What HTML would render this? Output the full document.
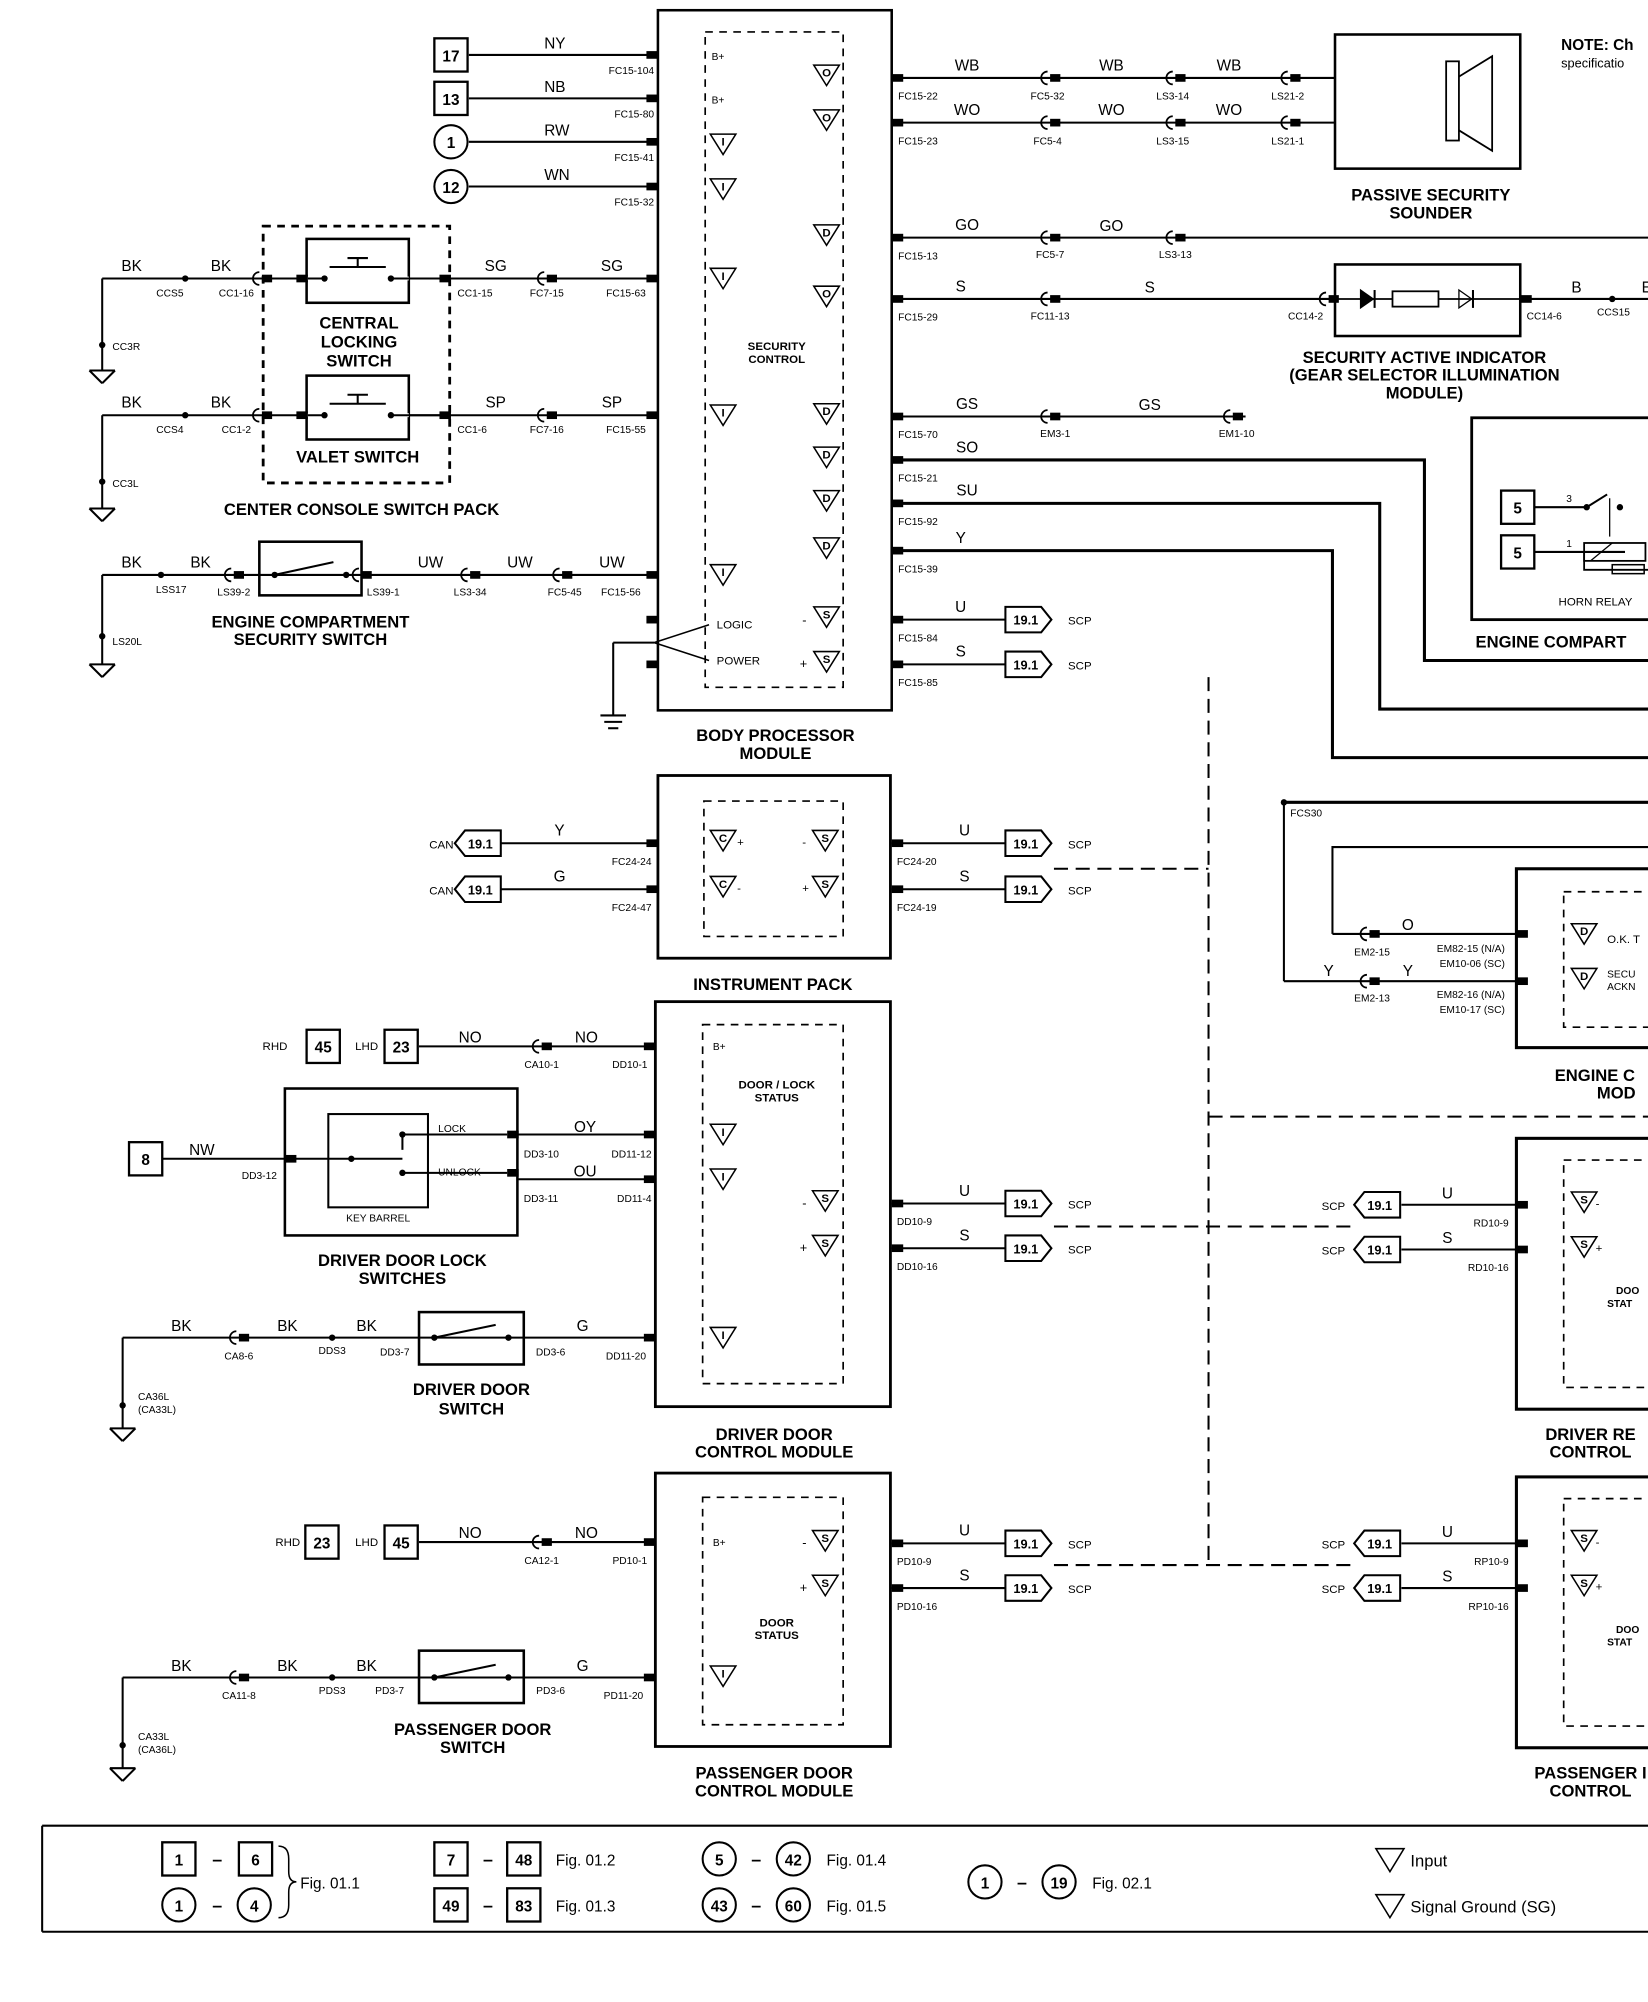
<!DOCTYPE html>
<html><head><meta charset="utf-8"><style>html,body{margin:0;padding:0;background:#fff}svg{display:block}text{font-family:"Liberation Sans",sans-serif;fill:#000}</style></head>
<body>
<svg id="s" width="1648" height="2002" viewBox="0 0 1290 1567" preserveAspectRatio="none" xmlns="http://www.w3.org/2000/svg">
<g id="g" stroke="#000" fill="none" stroke-width="1.6"></g>
</svg>
<script>
const G=document.getElementById('g');let h='';
const L=(x1,y1,x2,y2,w)=>h+=`<line x1="${x1}" y1="${y1}" x2="${x2}" y2="${y2}" stroke-width="${w||1.6}"/>`;
const P=(d,w,f)=>h+=`<path d="${d}" stroke-width="${w||1.6}" fill="${f||'none'}"/>`;
const R=(x,y,w,hh,sw,dash)=>h+=`<rect x="${x}" y="${y}" width="${w}" height="${hh}" stroke-width="${sw||2}" ${dash?'stroke-dasharray="6,5"':''}/>`;
const T=(x,y,t,s,b,a)=>h+=`<text x="${x}" y="${y}" font-size="${s||9}" ${b?'font-weight="bold"':''} text-anchor="${a||'start'}" stroke="none">${t}</text>`;
const pin=(x,y,dir)=>{h+=`<rect x="${dir>0?x:x-9}" y="${y-3}" width="9" height="6" fill="#000" stroke="none"/>`;};
const conn=(x,y)=>{P(`M${x-2},${y-5} a5,5 0 0 0 0,10`,1.4);h+=`<rect x="${x}" y="${y-3}" width="8" height="6" fill="#000" stroke="none"/>`;};
const dot=(x,y)=>h+=`<circle cx="${x}" cy="${y}" r="2.5" fill="#000" stroke="none"/>`;
const nbox=(x,y,t)=>{R(x,y-13,26,26,1.8);T(x+13,y+5,t,12,1,'middle');};
const ncirc=(x,y,t)=>{h+=`<circle cx="${x}" cy="${y}" r="13" stroke-width="1.6"/>`;T(x,y+5,t,12,1,'middle');};
const tagR=(x,y)=>{P(`M${x},${y-10}h28l8,10l-8,10h-28z`,1.6);T(x+16,y+4,'19.1',10,1,'middle');};
const tagL=(x,y)=>{P(`M${x+36},${y-10}h-28l-8,10l8,10h28z`,1.6);T(x+20,y+4,'19.1',10,1,'middle');};
const tri=(x,y,t)=>{P(`M${x-10},${y-8}h20l-10,16z`,1.2);if(t)T(x,y+1,t,9,1,'middle');};
const gnd=(x,y)=>{L(x-10,y,x+10,y);L(x-10,y,x,y+10);L(x+10,y,x,y+10);};
const sw=(x,y,w)=>{dot(x+12,y);dot(x+w-12,y);L(x+12,y,x+w-22,y-10);};
// ===== Body processor module
R(515,8,183,548,2);R(552,25,108,513,1.3,1);
T(607,580,'BODY PROCESSOR',13,1,'middle');T(607,594,'MODULE',13,1,'middle');
T(608,274,'SECURITY',9,1,'middle');T(608,284,'CONTROL',9,1,'middle');
[[43,'NY','FC15-104',()=>nbox(340,43,'17'),'B+'],[77,'NB','FC15-80',()=>nbox(340,77,'13'),'B+'],[111,'RW','FC15-41',()=>ncirc(353,111,'1'),'I'],[146,'WN','FC15-32',()=>ncirc(353,146,'12'),'I']].forEach(a=>{a[3]();L(367,a[0],515,a[0]);pin(515,a[0],-1);T(426,a[0]-5,a[1],12);T(512,a[0]+15,a[2],8,0,'end');if(a[4]=='B+')T(557,a[0]+4,'B+',8);else tri(566,a[0]+2,'I');});
tri(566,218,'I');tri(566,325,'I');tri(566,450,'I');
const rp=[[61,'O','WB','FC15-22'],[96,'O','WO','FC15-23'],[186,'D','GO','FC15-13'],[234,'O','S','FC15-29'],[326,'D','GS','FC15-70'],[360,'D','SO','FC15-21'],[394,'D','SU','FC15-92'],[431,'D','Y','FC15-39'],[485,'S','U','FC15-84'],[520,'S','S','FC15-85']];
rp.forEach(r=>{pin(698,r[0],1);tri(647,r[0]-2,r[1]);T(703,r[0]+17,r[3],8);T(r[2].length>1?757:752,r[0]-6,r[2],12,0,'middle');});
T(628,489,'-',10);T(626,523,'+',10);
[[61,'WB',['FC5-32','LS3-14','LS21-2']],[96,'WO',['FC5-4','LS3-15','LS21-1']]].forEach(r=>{L(698,r[0],1045,r[0]);[822,920,1010].forEach((x,i)=>{conn(x,r[0]);T(x-2,r[0]+17,r[2][i],8,0,'middle');});T(870,r[0]-6,r[1],12,0,'middle');T(962,r[0]-6,r[1],12,0,'middle');});
R(1045,27,145,105,2);h+=`<rect x="1132" y="48" width="10" height="62" stroke-width="1.4"/>`;P('M1142,60 L1168,44 V118 L1142,102',1.4);
T(1120,157,'PASSIVE SECURITY',13,1,'middle');T(1120,171,'SOUNDER',13,1,'middle');
T(1222,39,'NOTE: Ch',12,1);T(1222,53,'specificatio',10);
L(698,186,1290,186);conn(822,186);conn(920,186);T(870,181,'GO',12,0,'middle');T(822,202,'FC5-7',8,0,'middle');T(920,202,'LS3-13',8,0,'middle');
L(698,234,1045,234);conn(822,234);conn(1040,234);T(900,229,'S',12,0,'middle');T(822,250,'FC11-13',8,0,'middle');T(1022,250,'CC14-2',8,0,'middle');
R(1045,207,145,56,2);L(1045,234,1190,234,1.4);P('M1065,227 l10,7 l-10,7z',1,'#000');L(1076,227,1076,241);h+=`<rect x="1090" y="228" width="36" height="12" fill="#fff" stroke-width="1.4"/>`;P('M1142,227 l10,7 l-10,7z',1);L(1153,227,1153,241);
L(1190,234,1290,234);pin(1190,234,1);T(1195,250,'CC14-6',8);T(1230,229,'B',12);T(1263,247,'CCS15',8,0,'middle');dot(1262,234);T(1285,229,'E',12);
T(1115,284,'SECURITY ACTIVE INDICATOR',13,1,'middle');T(1115,298,'(GEAR SELECTOR ILLUMINATION',13,1,'middle');T(1115,312,'MODULE)',13,1,'middle');
L(698,326,975,326);conn(822,326);conn(965,326);T(900,321,'GS',12,0,'middle');T(826,342,'EM3-1',8,0,'middle');T(968,342,'EM1-10',8,0,'middle');
P('M698,360 H1115 V517 H1290',2.4);P('M698,394 H1080 V555 H1290',2.4);P('M698,431 H1043 V593 H1290',2.4);
L(1005,628,1290,628,2.4);L(1005,628,1005,768);dot(1005,628);T(1010,639,'FCS30',8);
R(1152,327,150,158,2.2);nbox(1175,397,'5');nbox(1175,432,'5');L(1201,397,1240,397);L(1201,432,1272,432);sw(1230,397,50);L(1260,390,1260,420,1);
h+=`<rect x="1240" y="425" width="48" height="14" stroke-width="1.4"/>`;L(1245,439,1262,425,1);P('M1240,432 V446 H1290',1.4);h+=`<rect x="1262" y="442" width="25" height="7" stroke-width="1.2"/>`;
T(1226,393,'3',8);T(1226,428,'1',8);T(1220,474,'HORN RELAY',9);T(1155,507,'ENGINE COMPART',13,1);
P('M1043,731 V663 H1290',1.6);L(1043,731,1187,731);L(1005,768,1187,768);conn(1072,731);conn(1072,768);
T(1102,728,'O',12,0,'middle');T(1040,764,'Y',12,0,'middle');T(1102,764,'Y',12,0,'middle');T(1074,748,'EM2-15',8,0,'middle');T(1074,784,'EM2-13',8,0,'middle');
T(1178,745,'EM82-15 (N/A)',8,0,'end');T(1178,757,'EM10-06 (SC)',8,0,'end');T(1178,781,'EM82-16 (N/A)',8,0,'end');T(1178,793,'EM10-17 (SC)',8,0,'end');
R(1187,680,115,140,2.4);R(1224,698,80,106,1.3,1);pin(1187,731,1);pin(1187,768,1);tri(1240,731,'D');tri(1240,766,'D');T(1258,738,'O.K. T',9);T(1258,765,'SECU',8);T(1258,775,'ACKN',8);
T(1217,846,'ENGINE C',13,1);T(1250,860,'MOD',13,1);
R(206,177,146,201,2.2,1);
[[218,'CCS5','CC1-16','SG','CC1-15','FC7-15','FC15-63',187],[325,'CCS4','CC1-2','SP','CC1-6','FC7-16','FC15-55',294]].forEach(r=>{const y=r[0];L(80,y,515,y);conn(205,y);pin(515,y,-1);R(240,r[7],80,50,2);
h+=`<rect x="232" y="${y-3}" width="9" height="6" fill="#000" stroke="none"/><rect x="344" y="${y-3}" width="9" height="6" fill="#000" stroke="none"/>`;
h+=`<line x1="241" y1="${y}" x2="320" y2="${y}" stroke="#fff" stroke-width="3"/>`;dot(254,y);dot(306,y);L(258,y-9,302,y-9);L(280,y-9,280,y-16);L(272,y-16,288,y-16);L(241,y,254,y);L(306,y,344,y);
conn(428,y);dot(145,y);T(103,y-6,'BK',12,0,'middle');T(173,y-6,'BK',12,0,'middle');T(133,y+14,r[1],8,0,'middle');T(185,y+14,r[2],8,0,'middle');T(388,y-6,r[3],12,0,'middle');T(358,y+14,r[4],8);T(428,y+14,r[5],8,0,'middle');T(479,y-6,r[3],12,0,'middle');T(490,y+14,r[6],8,0,'middle');});
L(80,218,80,270);dot(80,270);T(88,274,'CC3R',8);L(80,270,80,290);gnd(80,290);
L(80,325,80,377);dot(80,377);T(88,381,'CC3L',8);L(80,377,80,398);gnd(80,398);
T(281,257,'CENTRAL',13,1,'middle');T(281,272,'LOCKING',13,1,'middle');T(281,287,'SWITCH',13,1,'middle');T(280,362,'VALET SWITCH',13,1,'middle');T(283,403,'CENTER CONSOLE SWITCH PACK',13,1,'middle');
L(80,450,515,450);conn(183,450);R(203,424,80,42,2);sw(203,450,80);pin(515,450,-1);conn(283,450);conn(368,450);conn(440,450);
T(103,444,'BK',12,0,'middle');T(157,444,'BK',12,0,'middle');T(337,444,'UW',12,0,'middle');T(407,444,'UW',12,0,'middle');T(479,444,'UW',12,0,'middle');
T(134,464,'LSS17',8,0,'middle');T(183,466,'LS39-2',8,0,'middle');T(300,466,'LS39-1',8,0,'middle');T(368,466,'LS3-34',8,0,'middle');T(442,466,'FC5-45',8,0,'middle');T(486,466,'FC15-56',8,0,'middle');dot(126,450);
L(80,450,80,498);dot(80,498);T(88,505,'LS20L',8);L(80,498,80,520);gnd(80,520);
T(243,491,'ENGINE COMPARTMENT',13,1,'middle');T(243,505,'SECURITY SWITCH',13,1,'middle');
pin(515,485,-1);pin(515,520,-1);L(555,489,512,503,1.2);L(555,517,512,503,1.2);L(480,503,512,503);L(480,503,480,560);L(470,560,490,560);L(473,565,487,565);L(476,570,484,570);
T(561,492,'LOGIC',9);T(561,520,'POWER',9);
[[485,'U'],[520,'S']].forEach(r=>{L(698,r[0],787,r[0]);tagR(787,r[0]);T(836,r[0]+4,'SCP',9);});
R(515,607,182,143,2.2);R(551,627,109,106,1.3,1);T(605,775,'INSTRUMENT PACK',13,1,'middle');
[[660,'Y','FC24-24','C','+','U','FC24-20','S','-'],[696,'G','FC24-47','C','-','S','FC24-19','S','+']].forEach(r=>{const y=r[0];tagL(356,y);T(336,y+4,'CAN',9);L(392,y,515,y);pin(515,y,-1);T(438,y-6,r[1],12,0,'middle');T(510,y+17,r[2],8,0,'end');tri(566,y-2,r[3]);T(577,y+2,r[4],9);
tri(646,y-2,r[7]);T(628,y+2,r[8],9);pin(698,y,1);L(698,y,787,y);tagR(787,y);T(836,y+4,'SCP',9);T(755,y-6,r[5],12,0,'middle');T(702,y+17,r[6],8);});
R(513,784,184,317,2.2);R(550,802,110,281,1.3,1);T(606,1127,'DRIVER DOOR',13,1,'middle');T(606,1141,'CONTROL MODULE',13,1,'middle');
T(608,852,'DOOR / LOCK',9,1,'middle');T(608,862,'STATUS',9,1,'middle');T(558,822,'B+',8);
T(225,822,'RHD',9,0,'end');nbox(240,819,'45');T(296,822,'LHD',9,0,'end');nbox(301,819,'23');L(328,819,513,819);pin(513,819,-1);conn(424,819);T(368,816,'NO',12,0,'middle');T(459,816,'NO',12,0,'middle');T(424,836,'CA10-1',8,0,'middle');T(493,836,'DD10-1',8,0,'middle');
R(223,852,182,115,2);R(257,872,78,73,1.6);nbox(101,907,'8');L(127,907,223,907);pin(223,907,1);T(158,904,'NW',12,0,'middle');T(203,923,'DD3-12',8,0,'middle');T(296,956,'KEY BARREL',8,0,'middle');
L(228,907,275,907);dot(275,907);L(275,907,315,907);dot(315,888);dot(315,918);L(315,888,315,900);L(315,888,397,888);L(315,918,397,918);pin(397,888,1);pin(397,918,1);T(343,886,'LOCK',8);T(343,920,'UNLOCK',8);
L(405,888,513,888);L(405,923,513,923);pin(513,888,-1);pin(513,923,-1);T(458,886,'OY',12,0,'middle');T(458,921,'OU',12,0,'middle');T(410,906,'DD3-10',8);T(410,941,'DD3-11',8);T(510,906,'DD11-12',8,0,'end');T(510,941,'DD11-4',8,0,'end');
tri(566,888,'I');tri(566,923,'I');tri(646,940,'S');tri(646,975,'S');T(628,945,'-',10);T(626,980,'+',10);tri(566,1047,'I');
[[942,'U','DD10-9'],[977,'S','DD10-16']].forEach(r=>{pin(698,r[0],1);L(698,r[0],787,r[0]);tagR(787,r[0]);T(836,r[0]+4,'SCP',9);T(755,r[0]-6,r[1],12,0,'middle');T(702,r[0]+17,r[2],8);});
T(315,991,'DRIVER DOOR LOCK',13,1,'middle');T(315,1005,'SWITCHES',13,1,'middle');
L(96,1047,513,1047);L(96,1047,96,1100);dot(96,1100);L(96,1100,96,1118);gnd(96,1118);conn(187,1047);dot(260,1047);R(328,1027,82,41,2);sw(328,1047,82);pin(513,1047,-1);
T(142,1042,'BK',12,0,'middle');T(225,1042,'BK',12,0,'middle');T(287,1042,'BK',12,0,'middle');T(456,1042,'G',12,0,'middle');T(187,1064,'CA8-6',8,0,'middle');T(260,1060,'DDS3',8,0,'middle');T(309,1061,'DD3-7',8,0,'middle');T(431,1061,'DD3-6',8,0,'middle');T(490,1064,'DD11-20',8,0,'middle');
T(108,1096,'CA36L',8);T(108,1106,'(CA33L)',8);T(369,1092,'DRIVER DOOR',13,1,'middle');T(369,1107,'SWITCH',13,1,'middle');
R(513,1153,184,214,2.2);R(550,1172,110,178,1.3,1);T(606,1392,'PASSENGER DOOR',13,1,'middle');T(606,1406,'CONTROL MODULE',13,1,'middle');
T(608,1273,'DOOR',9,1,'middle');T(608,1283,'STATUS',9,1,'middle');T(558,1210,'B+',8);
T(235,1210,'RHD',9,0,'end');nbox(239,1207,'23');T(296,1210,'LHD',9,0,'end');nbox(301,1207,'45');L(328,1207,513,1207);pin(513,1207,-1);conn(424,1207);T(368,1204,'NO',12,0,'middle');T(459,1204,'NO',12,0,'middle');T(424,1224,'CA12-1',8,0,'middle');T(493,1224,'PD10-1',8,0,'middle');
tri(646,1206,'S');tri(646,1241,'S');T(628,1211,'-',10);T(626,1246,'+',10);tri(566,1312,'I');
[[1208,'U','PD10-9'],[1243,'S','PD10-16']].forEach(r=>{pin(698,r[0],1);L(698,r[0],787,r[0]);tagR(787,r[0]);T(836,r[0]+4,'SCP',9);T(755,r[0]-6,r[1],12,0,'middle');T(702,r[0]+17,r[2],8);});
L(96,1313,513,1313);L(96,1313,96,1366);dot(96,1366);L(96,1366,96,1384);gnd(96,1384);conn(187,1313);dot(260,1313);R(328,1292,82,41,2);sw(328,1313,82);pin(513,1313,-1);
T(142,1308,'BK',12,0,'middle');T(225,1308,'BK',12,0,'middle');T(287,1308,'BK',12,0,'middle');T(456,1308,'G',12,0,'middle');T(187,1330,'CA11-8',8,0,'middle');T(260,1326,'PDS3',8,0,'middle');T(305,1326,'PD3-7',8,0,'middle');T(431,1326,'PD3-6',8,0,'middle');T(488,1330,'PD11-20',8,0,'middle');
T(108,1362,'CA33L',8);T(108,1372,'(CA36L)',8);T(370,1358,'PASSENGER DOOR',13,1,'middle');T(370,1372,'SWITCH',13,1,'middle');
[[891,943,978,'RD10-9','RD10-16','DRIVER RE',1103],[1156,1208,1243,'RP10-9','RP10-16','PASSENGER I',1368]].forEach(m=>{R(1187,m[0],115,m[6]-m[0],2.4);R(1224,m[0]+17,80,m[6]-m[0]-34,1.3,1);
[[m[1],'U',m[3],'-'],[m[2],'S',m[4],'+']].forEach(r=>{tagL(1060,r[0]);T(1053,r[0]+4,'SCP',9,0,'end');L(1097,r[0],1187,r[0]);pin(1187,r[0],1);T(1133,r[0]-5,r[1],12,0,'middle');T(1181,r[0]+17,r[2],8,0,'end');tri(1240,r[0]-2,'S');T(1249,r[0]+2,r[3],9);});
T(1265,m[0]+122,'DOO',8,1);T(1258,m[0]+132,'STAT',8,1);T(1245,m[6]+24,m[5],13,1,'middle');T(1245,m[6]+38,'CONTROL',13,1,'middle');});
// dashed SCP network
h+='<g stroke-dasharray="11,6" stroke-width="1.8">';
L(946,530,946,1226);L(946,874,1290,874);L(825,680,946,680);L(825,960,1058,960);L(825,1225,1058,1225);
h+='</g>';
L(33,1429,1290,1429);L(33,1512,1290,1512);L(33,1429,33,1512);
nbox(127,1455,'1');T(170,1460,'–',14,1,'middle');nbox(187,1455,'6');ncirc(140,1491,'1');ncirc(199,1491,'4');T(170,1496,'–',14,1,'middle');P('M218,1445 q8,0 8,10 v10 q0,8 6,8 q-6,0 -6,8 v10 q0,10 -8,10',1.2);T(235,1478,'Fig. 01.1',12);
nbox(340,1455,'7');T(382,1460,'–',14,1,'middle');nbox(397,1455,'48');T(435,1460,'Fig. 01.2',12);
nbox(340,1491,'49');T(382,1496,'–',14,1,'middle');nbox(397,1491,'83');T(435,1496,'Fig. 01.3',12);
ncirc(563,1455,'5');T(592,1460,'–',14,1,'middle');ncirc(621,1455,'42');T(647,1460,'Fig. 01.4',12);
ncirc(563,1491,'43');T(592,1496,'–',14,1,'middle');ncirc(621,1491,'60');T(647,1496,'Fig. 01.5',12);
ncirc(771,1473,'1');T(800,1478,'–',14,1,'middle');ncirc(829,1473,'19');T(855,1478,'Fig. 02.1',12);
P('M1077,1447h22l-11,18z',1.2);T(1104,1461,'Input',13);P('M1077,1483h22l-11,18z',1.2);T(1104,1497,'Signal Ground (SG)',13);
G.innerHTML=h;
</script>
</body></html>
